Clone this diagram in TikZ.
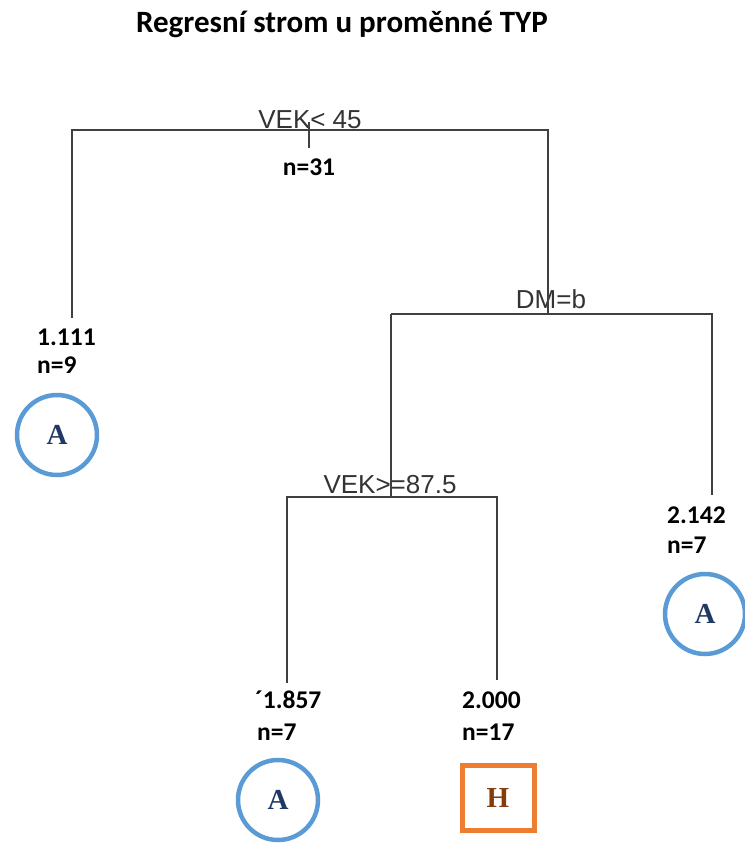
\documentclass[tikz,border=0pt]{standalone}
\usepackage{fontspec}
\setmainfont{Liberation Serif}
\newfontfamily\titlefont{Carlito}
\newfontfamily\splitfont{Liberation Sans}
\definecolor{leafblue}{HTML}{5B9BD5}
\definecolor{leaforange}{HTML}{ED7D31}
\definecolor{leafnavy}{HTML}{1F3864}
\definecolor{leafbrown}{HTML}{843C0C}
\tikzset{
  branch/.style={draw=black!75, line width=1.3pt},
  splitlbl/.style={font=\splitfont\fontsize{26}{30}\selectfont, text=black!80, inner sep=0pt, anchor=base},
  infolbl/.style={font=\titlefont\bfseries\fontsize{25.5}{29}\selectfont, inner sep=0pt, anchor=base west},
  leafA/.style={circle, draw=leafblue, line width=4.5pt, minimum size=80pt, inner sep=0pt,
    text=leafnavy, font=\bfseries\fontsize{29}{32}\selectfont},
  leafH/.style={rectangle, draw=leaforange, line width=5pt, minimum width=72pt, minimum height=65pt,
    inner sep=0pt, text=leafbrown, font=\bfseries\fontsize{29}{32}\selectfont}
}
\begin{document}
\begin{tikzpicture}[x=1pt, y=-1pt]
        \useasboundingbox (0,0) rectangle (744,843);
        % Nadpis
        \node[font=\titlefont\bfseries\fontsize{31}{36}\selectfont, inner sep=0pt, anchor=base] (title) at (342,33) {Regresní strom u proměnné TYP};
        % Uzly vetveni
        \coordinate (root) at (309,130);
        \coordinate (rootL) at (72,130);
        \coordinate (rootR) at (548,130);
        \coordinate (dm) at (548,314);
        \coordinate (dmL) at (391,314);
        \coordinate (dmR) at (712,314);
        \coordinate (vek) at (391,497);
        \coordinate (vekL) at (287,497);
        \coordinate (vekR) at (497,497);
        \coordinate (endA) at (72,318);
        \coordinate (endB) at (712,495);
        \coordinate (endC) at (287,683);
        \coordinate (endD) at (497,680);
        \coordinate (tick) at (309,148);
        % Popisky vetveni
        \node[splitlbl] (lblroot) at (310,128) {VEK< 45};
        \node[splitlbl] (lbldm) at (551,308) {DM=b};
        \node[splitlbl] (lblvek) at (390,493) {VEK>=87.5};
        % Car stromu
        \draw[branch] (endA) -- (rootL) -- (rootR) -- (dm);
        \draw[branch] (root |- lblroot.south) ++(0,-6) -- (tick);
        \draw[branch] (dmL) -- (dmR) -- (endB);
        \draw[branch] (dmL) -- (vek);
        \draw[branch] (endC) -- (vekL) -- (vekR) -- (endD);
        % Listy
        \node[infolbl, anchor=base] (n31) at (309,175) {n=31};
        \node[infolbl] (valA) at (37,345) {1.111};
        \node[infolbl] (nA) at (37,373) {n=9};
        \node[infolbl] (valB) at (667,523) {2.142};
        \node[infolbl] (nB) at (667,553) {n=7};
        \node[infolbl] (valC) at (255,708) {´1.857};
        \node[infolbl] (nC) at (257,740) {n=7};
        \node[infolbl] (valD) at (462,708) {2.000};
        \node[infolbl] (nD) at (462,740) {n=17};
        \node[leafA] (leafA) at (57,435) {A};
        \node[leafA] (leafB) at (705,614) {A};
        \node[leafA] (leafC) at (278,800) {A};
        \node[leafH] (leafD) at (498,798) {H};
\end{tikzpicture}
\end{document}
